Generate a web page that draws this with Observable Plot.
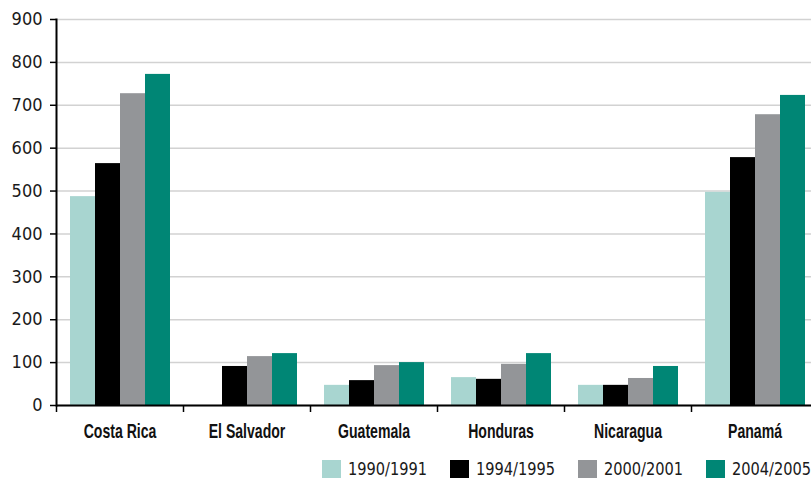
<!DOCTYPE html>
<html><head><meta charset="utf-8">
<script src="https://cdn.jsdelivr.net/npm/d3@7"></script>
<script src="https://cdn.jsdelivr.net/npm/@observablehq/plot@0.6"></script>
<style>
html,body{margin:0;padding:0;background:#fff;}
body{width:811px;height:481px;overflow:hidden;position:relative;}
#chart{width:811px;height:450px;overflow:hidden;}
#chart svg{max-width:none !important;width:818px !important;height:450px !important;}
#legend{position:absolute;top:458px;left:322px;display:flex;align-items:center;font-family:"DejaVu Sans Condensed",sans-serif;font-size:18px;color:#1a1a1a;white-space:nowrap;}
#legend .item{display:flex;align-items:center;width:128px;}
#legend .item:last-child{width:auto;}
#legend .sw{width:19px;height:18px;margin-right:7px;display:inline-block;flex:none;}
#legend .lab{display:inline-block;transform:scaleX(0.9);transform-origin:0 50%;}
</style></head><body>
<div id="chart"></div>
<div id="legend"></div>
<script>
const countries = ["Costa Rica","El Salvador","Guatemala","Honduras","Nicaragua","Panamá"];
const periods = ["1990/1991","1994/1995","2000/2001","2004/2005"];
const v1990 = [487, null, 47, 65, 47, 497];
const v1994 = [564, 91, 58, 61, 47, 578];
const v2000 = [727, 114, 93, 96, 63, 678];
const v2004 = [772, 121, 100, 121, 91, 723];
const colors = ["#a8d5d0","#000000","#939598","#008675"];
const yTicks = [0,100,200,300,400,500,600,700,800,900];

const series = [v1990, v1994, v2000, v2004];
const rows = [];
countries.forEach((c, i) => periods.forEach((p, j) => {
  const v = series[j][i];
  if (v != null) rows.push({country: c, period: p, value: v});
}));

const W = 818, H = 450, ML = 56, MT = 19, MB = 45;
const step = (W - ML) / countries.length;

const chart = Plot.plot({
  width: W, height: H,
  marginLeft: ML, marginRight: 0, marginTop: MT, marginBottom: MB,
  style: {fontFamily: "'DejaVu Sans Condensed', sans-serif", fontSize: "18px", color: "#1a1a1a", background: "white", overflow: "visible"},
  fx: {domain: countries, padding: 0, label: null},
  x: {domain: periods, paddingInner: 0, paddingOuter: 0.47, axis: null},
  y: {domain: [0, 900], label: null},
  color: {domain: periods, range: colors},
  marks: [
    Plot.gridY(yTicks, {stroke: "#d2d2d2", strokeOpacity: 1, strokeWidth: 1.5}),
    Plot.barY(rows, {fx: "country", x: "period", y: "value", fill: "period"}),
    Plot.ruleY([0], {stroke: "#000", strokeWidth: 2}),
    Plot.frame({anchor: "left", facetAnchor: "left", stroke: "#000", strokeWidth: 2}),
    Plot.axisY(yTicks, {tickSize: 6, tickPadding: 8, stroke: "#000", strokeWidth: 1.5, fill: "#1a1a1a", fontSize: 18, tickFormat: d => String(d), label: null}),
    Plot.axisFx({anchor: "bottom", tickSize: 0, tickPadding: 18, fontWeight: "bold", fontFamily: "'Liberation Sans', sans-serif", fontSize: 21, fill: "#111", label: null}),
    Plot.axisFx({anchor: "bottom", text: null, tickSize: 7, dx: -step / 2, stroke: "#000", strokeWidth: 1.5, label: null})
  ]
});
document.getElementById("chart").appendChild(chart);

// condense the bold category labels (no narrow font installed)
chart.querySelectorAll('g[aria-label="fx-axis tick label"] text').forEach(t => {
  const len = t.getComputedTextLength();
  t.setAttribute("textLength", (len * 0.67).toFixed(1));
  t.setAttribute("lengthAdjust", "spacingAndGlyphs");
});

const legend = document.getElementById("legend");
periods.forEach((p, i) => {
  const item = document.createElement("div");
  item.className = "item";
  const sw = document.createElement("span");
  sw.className = "sw";
  sw.style.background = colors[i];
  const lab = document.createElement("span");
  lab.className = "lab";
  lab.textContent = p;
  item.appendChild(sw); item.appendChild(lab);
  legend.appendChild(item);
});
</script>
</body></html>
